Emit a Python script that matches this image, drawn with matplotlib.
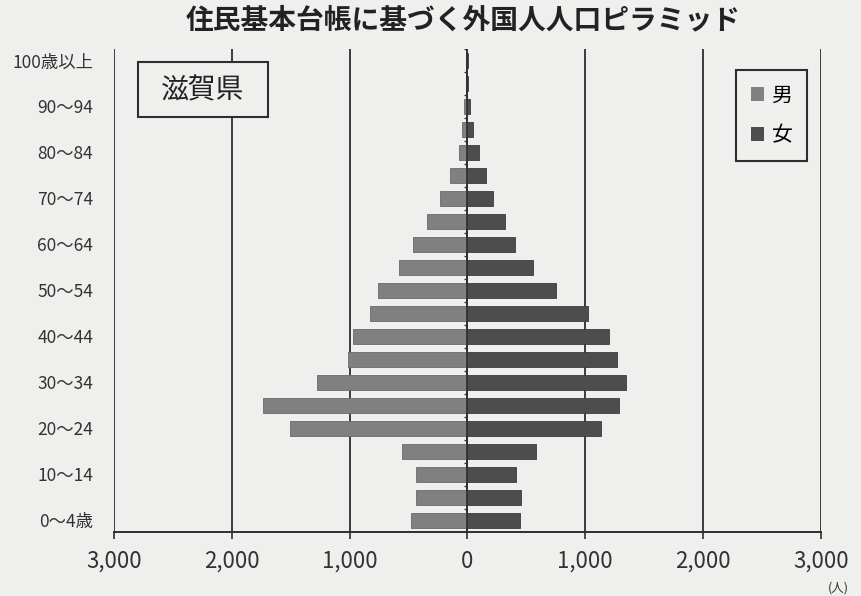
"""Foreign resident population pyramid for Shiga (Basic Resident Register)."""

import matplotlib

matplotlib.use("Agg")
import matplotlib.pyplot as plt
from matplotlib.patches import Patch, Rectangle
from matplotlib.ticker import FuncFormatter, MultipleLocator
import numpy as np

plt.rcParams["font.family"] = ["Noto Sans CJK JP", "DejaVu Sans"]

AGE_GROUPS = [
    "0～4歳", "5～9", "10～14", "15～19", "20～24", "25～29", "30～34",
    "35～39", "40～44", "45～49", "50～54", "55～59", "60～64", "65～69",
    "70～74", "75～79", "80～84", "85～89", "90～94", "95～99", "100歳以上",
]
MALE = [480, 440, 440, 555, 1510, 1735, 1280, 1015, 975, 825, 760,
        580, 460, 345, 230, 150, 70, 45, 30, 6, 1]
FEMALE = [445, 450, 415, 585, 1130, 1290, 1345, 1270, 1205, 1020, 755,
          560, 405, 320, 220, 155, 98, 47, 19, 6, 2]
X_TICKS = [-3000, -2000, -1000, 0, 1000, 2000, 3000]

PAPER = "#efefed"
INK = "#2e2e2e"
MALE_COLOR = "#808080"
FEMALE_COLOR = "#4d4d4d"


def main() -> None:
    fig = plt.figure(figsize=(8.61, 5.96), dpi=100, facecolor=PAPER)
    ax = fig.add_axes([0.1324, 0.1074, 0.8211, 0.8104], facecolor=PAPER)

    y = np.arange(len(AGE_GROUPS))
    male = np.array(MALE)
    female = np.array(FEMALE)
    ax.barh(y, -male, height=0.66, color=MALE_COLOR, edgecolor="#6a6a6a",
            linewidth=0.6, zorder=3)
    ax.barh(y, female, height=0.66, color=FEMALE_COLOR, edgecolor="#3c3c3c",
            linewidth=0.6, zorder=3)

    ax.set_xlim(X_TICKS[0], X_TICKS[-1])
    ax.set_ylim(-0.5, len(AGE_GROUPS) - 0.5)

    # vertical grid every 1,000 people, zero line drawn as the centre axis
    ax.set_xticks(X_TICKS)
    ax.xaxis.set_major_formatter(FuncFormatter(lambda v, _: f"{abs(int(v)):,}"))
    ax.grid(axis="x", color=INK, linewidth=1.3, zorder=1)
    ax.axvline(0, color=INK, linewidth=1.2, zorder=4)
    bounds = np.arange(-0.5, len(AGE_GROUPS), 1.0)
    ax.hlines(bounds, -30, 0, color=INK, linewidth=0.9, zorder=4)

    # every other age group labelled on the left
    ax.set_yticks(y[::2])
    ax.set_yticklabels(AGE_GROUPS[::2])
    ax.tick_params(axis="y", length=0, pad=15, labelsize=12.5, colors="#333333")
    ax.tick_params(axis="x", length=5, width=1.2, color=INK, direction="out",
                   pad=8, labelsize=16, colors="#333333")

    for side in ("top", "left", "right"):
        ax.spines[side].set_visible(False)
    ax.spines["bottom"].set_color(INK)
    ax.spines["bottom"].set_linewidth(1.4)

    # prefecture name box
    fig.patches.append(Rectangle((138 / 861, 1 - 117 / 596), 130 / 861, 55 / 596,
                                 transform=fig.transFigure, facecolor=PAPER,
                                 edgecolor=INK, linewidth=1.5, zorder=5))
    fig.text(203 / 861, 1 - 90 / 596, "滋賀県", fontsize=20, ha="center",
             va="center", color="#222222", zorder=6)

    handles = [Patch(facecolor=MALE_COLOR, label="男"),
               Patch(facecolor=FEMALE_COLOR, label="女")]
    leg = ax.legend(handles=handles, loc="upper right",
                    bbox_to_anchor=(807 / 861, 1 - 70 / 596),
                    bbox_transform=fig.transFigure, borderaxespad=0,
                    fontsize=15, handlelength=0.65, handleheight=0.65,
                    handletextpad=0.35, labelspacing=0.85, borderpad=0.7,
                    fancybox=False, framealpha=1, facecolor=PAPER,
                    edgecolor=INK)
    leg.get_frame().set_linewidth(1.5)
    leg.set_zorder(6)

    fig.text(0.538, 0.965, "住民基本台帳に基づく外国人人口ピラミッド",
             fontsize=20, fontweight="bold", ha="center", va="center",
             color="#222222")
    fig.text(838 / 861, 1 - 588 / 596, "(人)", fontsize=9, ha="center",
             va="center", color="#333333")

    fig.savefig("out.png", dpi=100, facecolor=PAPER)
    plt.close(fig)


if __name__ == "__main__":
    main()
